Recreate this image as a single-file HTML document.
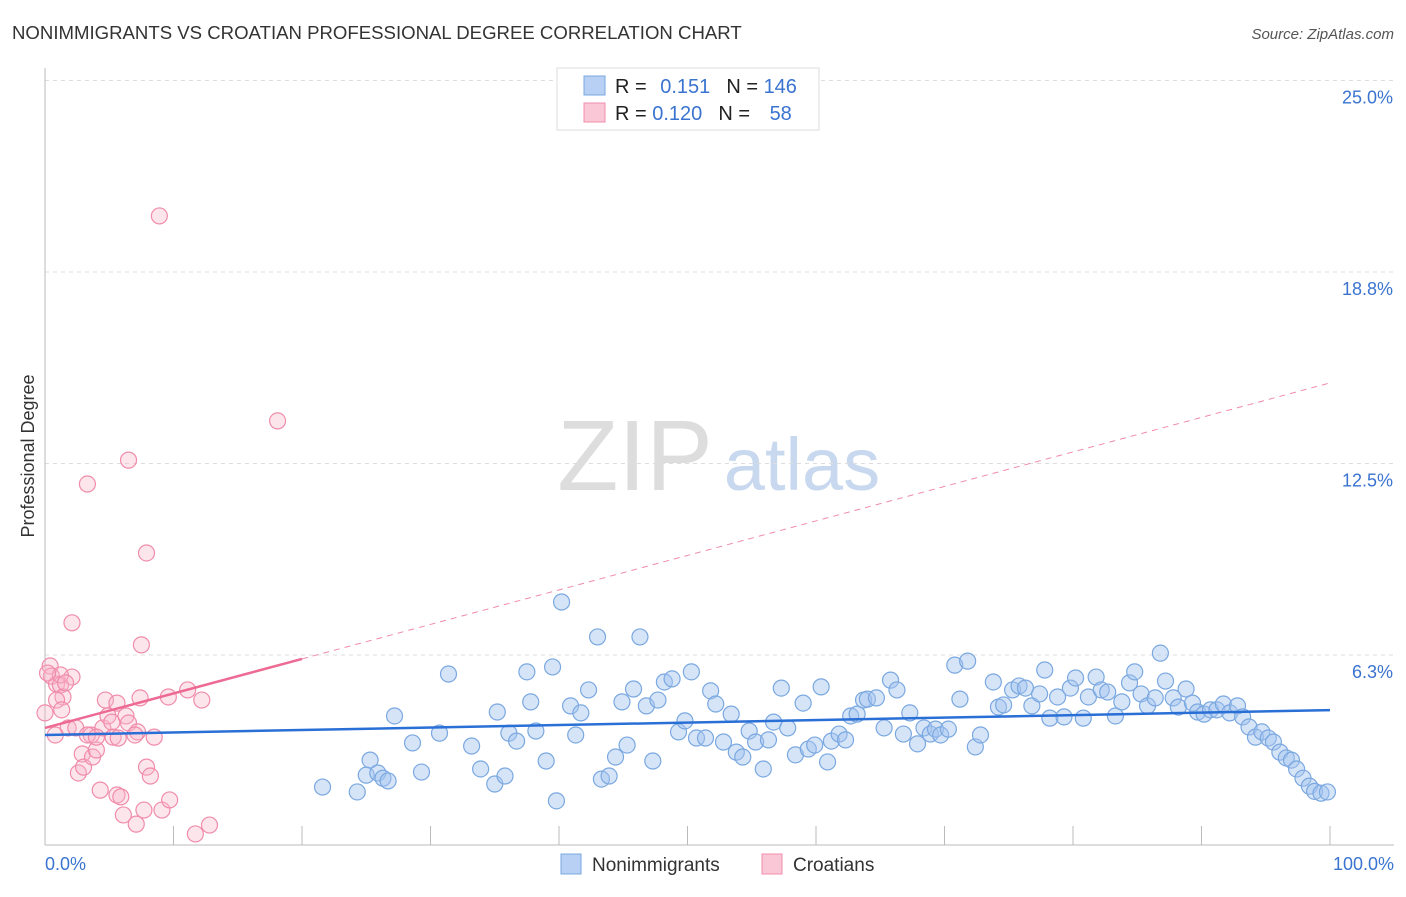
<!DOCTYPE html>
<html><head><meta charset="utf-8">
<style>
body{margin:0;background:#fff;font-family:"Liberation Sans",sans-serif;}
svg text{font-family:"Liberation Sans",sans-serif;}
</style></head>
<body>
<svg id="chart" width="1406" height="892">
<text x="12" y="39" font-size="18.6" fill="#333">NONIMMIGRANTS VS CROATIAN PROFESSIONAL DEGREE CORRELATION CHART</text>
<text x="1394" y="39" font-size="15" fill="#555" font-style="italic" text-anchor="end">Source: ZipAtlas.com</text>
<text transform="translate(34,456) rotate(-90)" font-size="18" fill="#333" text-anchor="middle">Professional Degree</text>
<g>
<text x="635" y="490" font-size="100" font-family="Liberation Serif" fill="#ddd" text-anchor="middle">ZIP</text>
<text x="802" y="490" font-size="74" fill="#c8d8ef" text-anchor="middle">atlas</text>
</g>
<g id="grid"></g>
<g id="marks"></g>
<g>
<rect x="557" y="68" width="262" height="62" fill="#fff" stroke="#ddd"/>
<rect x="584" y="76" width="21" height="19" fill="#b7d0f3" stroke="#7aa8e0"/>
<rect x="584" y="103" width="21" height="19" fill="#f9c7d5" stroke="#f08cab"/>
<text x="615" y="93" font-size="20" fill="#222">R = <tspan fill="#3a74d0" dx="8">0.151</tspan><tspan fill="#222" dx="16">N = </tspan><tspan fill="#3a74d0">146</tspan></text>
<text x="615" y="120" font-size="20" fill="#222">R = <tspan fill="#3a74d0">0.120</tspan><tspan fill="#222" dx="16">N = </tspan><tspan fill="#3a74d0" dx="14">58</tspan></text>
</g>
<g>
<rect x="561" y="854" width="20" height="20" fill="#b7d0f3" stroke="#7aa8e0"/>
<text x="592" y="871" font-size="19" fill="#333">Nonimmigrants</text>
<rect x="762" y="854" width="20" height="20" fill="#f9c7d5" stroke="#f08cab"/>
<text x="793" y="871" font-size="19" fill="#333">Croatians</text>
</g>
</svg>
<script>
const yTicks=[25,18.75,12.5,6.25];
const yTickLabels=["25.0%","18.8%","12.5%","6.3%"];
const xTickVals=[0,10,20,30,40,50,60,70,80,90,100];
const blueX=[21.6,24.3,25.3,25.0,25.9,26.3,26.7,27.2,28.6,29.3,30.7,31.4,33.2,33.9,35.0,35.2,35.8,36.1,36.7,37.5,37.8,38.2,39.0,39.5,39.8,40.2,40.9,41.3,41.7,42.3,43.0,43.3,43.9,44.4,44.9,45.3,45.8,46.3,46.8,47.3,47.7,48.2,48.8,49.3,49.8,50.3,50.7,51.4,51.8,52.2,52.8,53.4,53.8,54.3,54.8,55.3,55.9,56.3,56.7,57.3,57.8,58.4,59.0,59.4,59.9,60.4,60.9,61.2,61.8,62.3,62.7,63.2,63.7,64.0,64.7,65.3,65.8,66.3,66.8,67.3,67.9,68.4,68.9,69.3,69.7,70.3,70.8,71.2,71.8,72.4,72.8,73.8,74.2,74.6,75.3,75.8,76.3,76.8,77.4,77.8,78.2,78.8,79.3,79.8,80.2,80.8,81.2,81.8,82.2,82.7,83.3,83.8,84.4,84.8,85.3,85.8,86.4,86.8,87.2,87.8,88.2,88.8,89.3,89.7,90.2,90.7,91.2,91.7,92.2,92.8,93.2,93.7,94.2,94.7,95.2,95.6,96.1,96.6,97.0,97.4,97.9,98.4,98.8,99.3,99.8];
const blueY=[1.94,1.78,2.82,2.33,2.40,2.23,2.14,4.26,3.38,2.43,3.70,5.63,3.28,2.53,2.04,4.39,2.30,3.70,3.44,5.70,4.72,3.77,2.79,5.86,1.49,7.98,4.59,3.64,4.36,5.11,6.84,2.20,2.30,2.92,4.72,3.31,5.14,6.84,4.59,2.79,4.78,5.37,5.47,3.74,4.10,5.70,3.54,3.54,5.08,4.65,3.41,4.32,3.08,2.92,3.77,3.41,2.53,3.48,4.06,5.17,3.87,2.99,4.68,3.18,3.31,5.21,2.76,3.44,3.67,3.48,4.26,4.32,4.78,4.81,4.85,3.87,5.43,5.11,3.67,4.36,3.35,3.87,3.67,3.83,3.64,3.83,5.92,4.81,6.05,3.25,3.64,5.37,4.55,4.62,5.11,5.24,5.17,4.59,4.98,5.76,4.19,4.88,4.23,5.17,5.50,4.19,4.88,5.53,5.11,5.04,4.26,4.72,5.34,5.70,4.98,4.59,4.85,6.31,5.40,4.85,4.55,5.14,4.68,4.39,4.32,4.46,4.46,4.65,4.36,4.59,4.23,3.90,3.57,3.74,3.54,3.41,3.08,2.89,2.82,2.53,2.23,1.97,1.80,1.74,1.78];
const pinkX=[0.4,0.5,0.9,1.2,1.4,0.9,2.1,1.3,1.8,2.1,3.3,2.4,2.6,2.9,3.0,3.7,3.6,4.0,4.3,4.7,4.5,4.9,5.2,5.6,5.9,5.6,6.3,6.5,6.1,6.5,7.1,7.2,7.4,7.5,7.7,7.9,7.9,8.2,8.5,8.9,9.1,9.6,9.7,11.1,11.7,12.2,12.8,18.1,1.2,1.6,0.2,0.0,0.8,3.3,4.0,5.3,7.0,5.7];
const pinkY=[5.89,5.56,5.30,5.27,4.88,4.78,5.53,4.46,3.87,7.30,11.83,3.87,2.40,3.02,2.59,2.92,3.64,3.15,1.84,4.78,3.87,4.26,4.06,1.68,1.62,4.68,4.26,12.61,1.03,4.03,0.73,3.74,4.85,6.58,1.19,2.59,9.58,2.30,3.57,20.58,1.19,4.88,1.52,5.11,0.41,4.78,0.70,13.89,5.60,5.34,5.66,4.36,3.64,3.64,3.57,3.57,3.64,3.54];
const blueTrend=[3.64,4.45];
const pinkTrend=[3.87,15.13];
const pinkSolidEnd=20;

const NS="http://www.w3.org/2000/svg";
const X=v=>45+v*12.85;
const Y=v=>846.5-v*30.64;
function mk(tag,attrs,parent){const e=document.createElementNS(NS,tag);for(const k in attrs)e.setAttribute(k,attrs[k]);parent.appendChild(e);return e;}
const grid=document.getElementById('grid'),marks=document.getElementById('marks');
yTicks.forEach((t,i)=>{
 const l=mk('line',{x1:45,x2:1394,y1:Y(t),y2:Y(t),stroke:'#ddd','stroke-dasharray':'4,4'},grid);
 
 
 const tx=mk('text',{x:1393,y:Y(t)+23,'font-size':18,fill:'#3a74d0','text-anchor':'end'},grid);
 tx.textContent=yTickLabels[i];
 
 
});
const ax=mk('line',{x1:45,x2:45,y1:68,y2:845,stroke:'#bbb'},grid);


const bx=mk('line',{x1:45,x2:1394,y1:845,y2:845,stroke:'#bbb'},grid);


xTickVals.forEach(v=>{
 const t=mk('line',{x1:X(v),x2:X(v),y1:826,y2:845,stroke:'#bbb'},grid);
 
 
});
const xl0=mk('text',{x:45,y:870,'font-size':18,fill:'#3a74d0'},grid);xl0.textContent='0.0%';


const xl1=mk('text',{x:1394,y:870,'font-size':18,fill:'#3a74d0','text-anchor':'end'},grid);xl1.textContent='100.0%';



blueX.forEach((v,i)=>{
 const c=mk('circle',{cx:X(v),cy:Y(blueY[i]),r:8,fill:'rgba(164,196,240,0.45)',stroke:'#7aa8e0','stroke-width':1.2},marks);
 
 
});
pinkX.forEach((v,i)=>{
 const c=mk('circle',{cx:X(v),cy:Y(pinkY[i]),r:8,fill:'rgba(248,180,200,0.35)',stroke:'#f08cab','stroke-width':1.2},marks);
 
 
});
const bt=mk('line',{x1:X(0),y1:Y(blueTrend[0]),x2:X(100),y2:Y(blueTrend[1]),stroke:'#2a6fd6','stroke-width':2.5},marks);


const pAt=v=>pinkTrend[0]+(pinkTrend[1]-pinkTrend[0])*v/100;
const pd=mk('line',{x1:X(pinkSolidEnd),y1:Y(pAt(pinkSolidEnd)),x2:X(100),y2:Y(pinkTrend[1]),stroke:'#f08cab','stroke-width':1,'stroke-dasharray':'6,5'},marks);


const ps=mk('line',{x1:X(0),y1:Y(pinkTrend[0]),x2:X(pinkSolidEnd),y2:Y(pAt(pinkSolidEnd)),stroke:'#ec6a93','stroke-width':2.5},marks);


</script>
</body></html>
